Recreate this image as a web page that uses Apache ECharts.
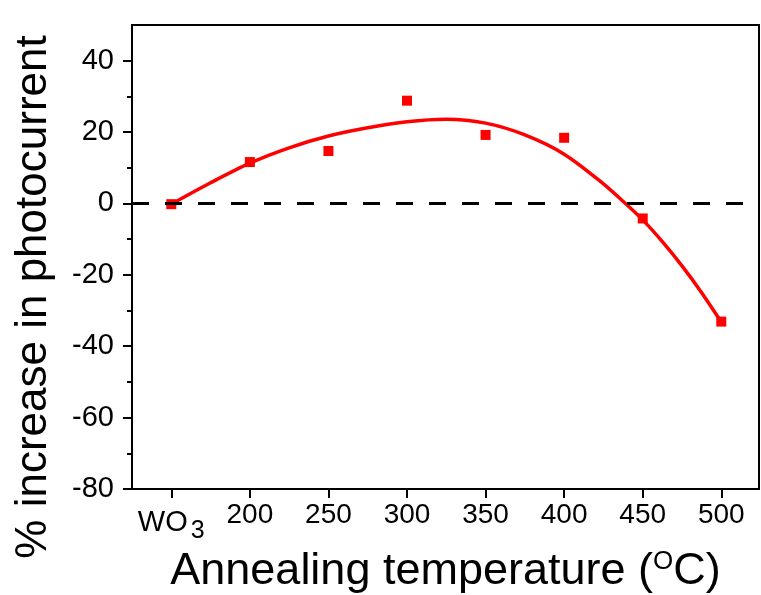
<!DOCTYPE html>
<html>
<head>
<meta charset="utf-8">
<script src="https://cdn.jsdelivr.net/npm/echarts@6/dist/echarts.min.js"></script>
<style>
  html, body { margin: 0; padding: 0; background: #fff; }
  #main { width: 761px; height: 595px; }
</style>
</head>
<body>
<div id="main"></div>
<script>
// measured points (x = annealing temp, 150 stands for bare WO3)
var tempX = [150, 200, 250, 300, 350, 400, 450, 500];
var increase = [-0.2, 11.6, 14.7, 28.8, 19.2, 18.4, -4.2, -33.1];

// fitted curve
var fitX = [150, 175, 200, 225, 250, 275, 300, 325, 350, 375, 400, 425, 437.5, 450, 462.5, 475, 487.5, 500];
var fitY = [-0.2, 5.8, 11.3, 15.6, 18.9, 21.2, 22.9, 23.6, 22.5, 19.2, 13.8, 5.5, 0.6, -4.6, -10.7, -17.5, -25.0, -33.2];

var yTicks = [-80, -60, -40, -20, 0, 20, 40];

var font = 'Liberation Sans, Arial, sans-serif';

var myChart = echarts.init(document.getElementById('main'));

var option = {
    animation: false,
    grid: {
        left: 132, right: 2, top: 25, bottom: 106,
        outerBoundsMode: 'none',
        containLabel: false,
        show: true, borderColor: '#000', borderWidth: 2
    },
    xAxis: {
        type: 'value',
        min: 125,
        max: 524,
        name: '{t|Annealing temperature (}{sup|O}{t|C)}',
        nameLocation: 'middle',
        nameGap: 56,
        nameTextStyle: {
            rich: {
                t: { fontSize: 45, fontFamily: font, color: '#000' },
                sup: { fontSize: 26, fontFamily: font, color: '#000', verticalAlign: 'top', padding: [0, 0, 20, 0] }
            }
        },
        splitLine: { show: false },
        axisLine: { onZero: false, lineStyle: { color: '#000', width: 2 } },
        axisTick: { customValues: tempX, length: 9, lineStyle: { width: 2 } },
        axisLabel: {
            customValues: tempX,
            margin: 12,
            color: '#000',
            fontSize: 28,
            fontFamily: font,
            formatter: function (v) {
                return v === 150 ? '{a|WO}{sub|3}' : '' + v;
            },
            rich: {
                a: { fontSize: 29, fontFamily: font, color: '#000' },
                sub: { fontSize: 25, fontFamily: font, color: '#000', padding: [18, 0, 0, 3] }
            }
        }
    },
    yAxis: {
        type: 'value',
        min: -80,
        max: 50,
        interval: 20,
        name: '% increase in photocurrent',
        nameLocation: 'middle',
        nameGap: 76,
        nameTextStyle: { fontSize: 44, fontFamily: font, color: '#000', padding: [0, 80, 0, 0] },
        splitLine: { show: false },
        axisLine: { lineStyle: { color: '#000', width: 2 } },
        axisTick: { customValues: yTicks, length: 9, lineStyle: { width: 2 } },
        minorTick: { show: true, splitNumber: 2, length: 5, lineStyle: { color: '#000', width: 2 } },
        axisLabel: {
            customValues: yTicks,
            margin: 18,
            color: '#000',
            fontSize: 29,
            fontFamily: font
        }
    },
    series: [{
        type: 'line',
        data: fitX.map((x, i) => [x, fitY[i]]),
        smooth: 0.3,
        showSymbol: false,
        lineStyle: { color: '#ff0000', width: 3.5 },
        markLine: {
            silent: true,
            symbol: 'none',
            label: { show: false },
            lineStyle: { color: '#000', type: [17, 16], width: 3 },
            data: [{ yAxis: 0 }]
        },
        z: 2
    }, {
        type: 'scatter',
        data: tempX.map((x, i) => [x, increase[i]]),
        symbol: 'rect',
        symbolSize: 10,
        itemStyle: { color: '#ff0000', opacity: 1 },
        z: 3
    }]
};

myChart.setOption(option);
</script>
</body>
</html>
